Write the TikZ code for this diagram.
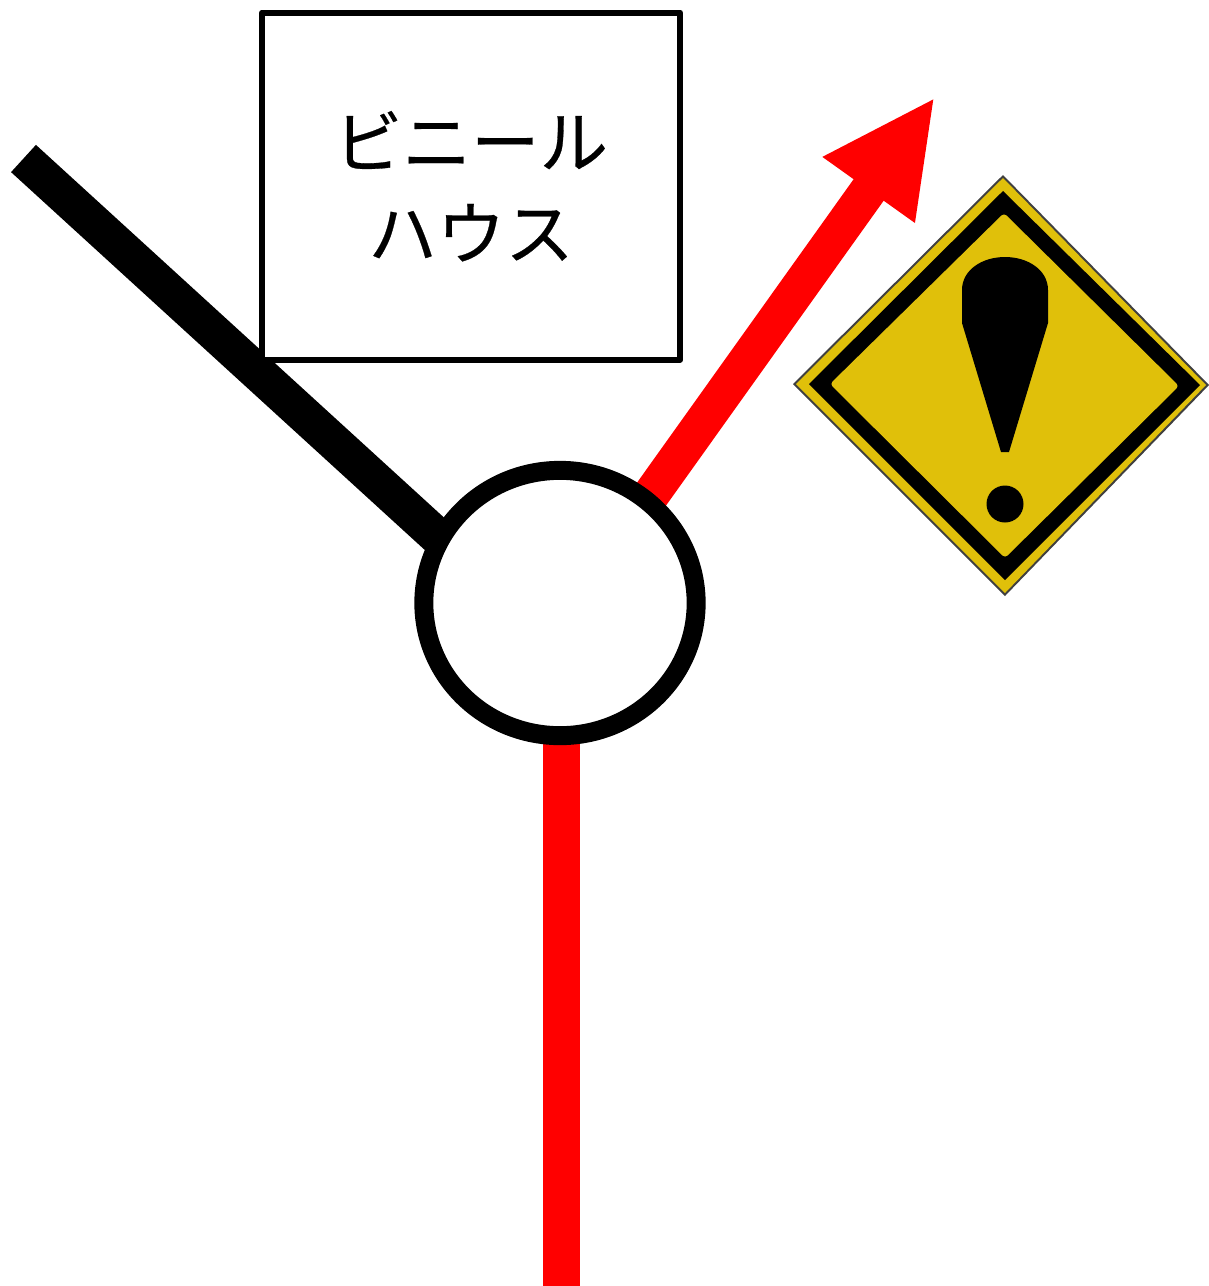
\documentclass[tikz,border=0pt]{standalone}
\usepackage{fontspec}
\usepackage{tikz}
\usetikzlibrary{positioning, arrows.meta, backgrounds, shapes.geometric}
\newfontfamily\cjk[FakeBold=0.4]{Noto Sans CJK JP}
\definecolor{signyellow}{HTML}{E0C00A}

\begin{document}
\begin{tikzpicture}[
    x=0.02cm, y=-0.02cm,
    road/.style={line width=21pt, shorten <=-6pt}, % both roads have the same width
    hubnode/.style={ellipse, draw, fill=white, inner sep=0pt, line width=10.8pt, minimum width=155pt, minimum height=151pt},
    housenode/.style={rectangle, draw, fill=white, line width=3.4pt, line join=round, align=center,
        minimum width=238pt, minimum height=197.7pt, font=\cjk\fontsize{39}{52}\selectfont}
]
    \useasboundingbox (0,0) rectangle (1209,1286);

    % Place the nodes
    \node (hub) [hubnode] at (560,603) {};
    \node (house) [housenode, above=1.96cm of hub, xshift=-1.78cm] {ビニール\\ハウス};
    \coordinate (west) at (23.5,158.5);
    \coordinate (tip) at (935,97);
    \coordinate (south) at (561.3,1286);

    % Draw the roads
    \begin{pgfonlayer}{background}
    \draw [road] (hub.151) -- (west);
    \draw [road, red, -{Triangle[length=65pt, width=59.5pt]}] (hub.50.5) -- (tip);
    \draw [road, red] (hub.south -| south) -- (south);
    \end{pgfonlayer}

    % Warning sign
    \fill [black!75] (1003,175) -- (1209,385) -- (1005,596) -- (793,384) -- cycle;
    \fill [signyellow] (1003,178) -- (1206,385) -- (1005,593) -- (796,384) -- cycle;
    \fill [black] (1003,191) -- (1200,385) -- (1005,580) -- (809,384) -- cycle;
    \fill [signyellow, rounded corners=2pt] (1004,213) -- (1179,386) -- (1005,558) -- (830,384) -- cycle;
    \fill (962,290) .. controls (962,270) and (982,257) .. (1005,257)
        .. controls (1028,257) and (1048,270) .. (1048,290)
        -- (1048,323) -- (1009,452) -- (1001,452) -- (962,323) -- cycle;
    \fill (1005,504) circle [radius=18.5];
\end{tikzpicture}
\end{document}
